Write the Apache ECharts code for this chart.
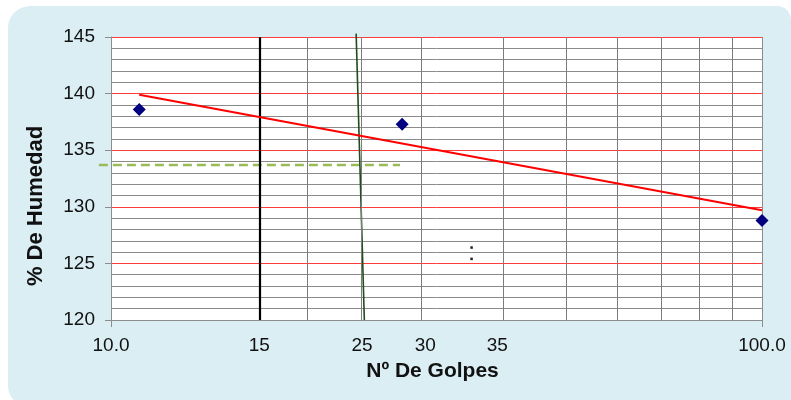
<!DOCTYPE html>
<html>
<head>
<meta charset="utf-8">
<script src="https://cdn.jsdelivr.net/npm/echarts@6/dist/echarts.min.js"></script>
<style>
  html, body { margin: 0; padding: 0; background: #ffffff; }
  #wrap { position: relative; width: 791px; height: 400px; overflow: hidden; background: #ffffff; }
  #panel { position: absolute; left: 8px; top: 6px; width: 783px; height: 400px; border-radius: 22px 14px 0 20px; background: #dbeef4; }
  #chart { position: absolute; left: 0; top: 0; width: 791px; height: 400px; }
</style>
</head>
<body>
<div id="wrap">
  <div id="panel"></div>
  <div id="chart"></div>
</div>
<script>
// ---- data ----
const xTickValues = [10, 16.9, 24.3, 30.4, 39.2, 100];
const xTickLabels = ['10.0', '15', '25', '30', '35', '100.0'];
const yMin = 120, yMax = 145, yStep = 5;

const grayVerticals = [20, 24.2, 30, 40, 50, 60, 70, 80, 90];
const blackVerticals = [16.9];

const golpes  = [11.05, 28.0, 100];
const humedad = [138.6, 137.3, 128.8];

const trendX = [11.05, 100];
const trendY = [139.9, 129.7];

const line25X = [23.8, 24.5];
const line25Y = [145.3, 120];

const dashX = [9.58, 27.8];
const dashY = [133.7, 133.7];

const dotsX = [35.8, 35.8];
const dotsY = [126.4, 125.4];

const zip = (a, b) => a.map((v, i) => [v, b[i]]);

const font = '"Liberation Sans", Arial, sans-serif';
const chart = echarts.init(document.getElementById('chart'), null, { renderer: 'canvas' });

// log-axis position that also works below the axis minimum
function logCoord(api, x, y) {
  const p10 = api.coord([10, y]);
  const p100 = api.coord([100, y]);
  const t = Math.log10(x / 10);
  return [p10[0] + t * (p100[0] - p10[0]), p10[1]];
}

chart.setOption({
  animation: false,
  backgroundColor: 'transparent',
  grid: { left: 111, right: 29, top: 37, bottom: 80, show: true, backgroundColor: '#ffffff', borderWidth: 0 },
  xAxis: {
    type: 'log', logBase: 10, min: 10, max: 100,
    name: 'Nº De Golpes', nameLocation: 'middle', nameGap: 41,
    nameTextStyle: { fontFamily: font, fontSize: 21, fontWeight: 'bold', color: '#111', padding: [0, 8, 0, 0] },
    axisLine: { show: true, lineStyle: { color: '#8c8c8c', width: 1 } },
    axisTick: { show: true, length: 7, lineStyle: { color: '#8c8c8c' } },
    axisLabel: {
      show: true, margin: 16, fontFamily: font, fontSize: 19, color: '#111',
      customValues: xTickValues,
      formatter: function (v) {
        let best = 0, d = Infinity;
        xTickValues.forEach((t, i) => { const dd = Math.abs(Math.log10(t) - Math.log10(v)); if (dd < d) { d = dd; best = i; } });
        return xTickLabels[best];
      }
    },
    splitLine: { show: true, lineStyle: { color: '#8c8c8c', width: 1 } },
    minorTick: { show: false },
    minorSplitLine: { show: false }
  },
  yAxis: {
    type: 'value', min: yMin, max: yMax, interval: yStep,
    name: '% De Humedad', nameLocation: 'middle', nameGap: 64,
    nameTextStyle: { fontFamily: font, fontSize: 22, fontWeight: 'bold', color: '#111', padding: [0, 55, 0, 0] },
    axisLine: { show: true, lineStyle: { color: '#8c8c8c', width: 1 } },
    axisTick: { show: true, length: 6, lineStyle: { color: '#8c8c8c' } },
    axisLabel: { margin: 16, fontFamily: font, fontSize: 19, color: '#111' },
    splitLine: { show: true, lineStyle: { color: '#ff3c3c', width: 1 } },
    minorTick: { show: false, splitNumber: 5 },
    minorSplitLine: { show: true, lineStyle: { color: '#8a8a8a', width: 1 } }
  },
  series: [
    {
      type: 'line', data: [], z: 1, silent: true,
      markLine: {
        silent: true, symbol: 'none', label: { show: false }, animation: false,
        data: grayVerticals.map(v => ({ xAxis: v, lineStyle: { color: '#7c7c7c', width: 1, type: 'solid' } }))
          .concat(blackVerticals.map(v => ({ xAxis: v, lineStyle: { color: '#000000', width: 2.2, type: 'solid' } })))
      }
    },
    {
      type: 'custom', z: 3, clip: false, silent: true,
      data: [[dashX[0], dashY[0], dashX[1], dashY[1]]],
      renderItem: function (params, api) {
        const a = logCoord(api, api.value(0), api.value(1));
        const b = logCoord(api, api.value(2), api.value(3));
        return {
          type: 'line',
          shape: { x1: a[0], y1: a[1], x2: b[0], y2: b[1] },
          style: { stroke: '#9bbb59', lineWidth: 2.5, lineDash: [9, 5] }
        };
      }
    },
    {
      type: 'line', data: zip(line25X, line25Y), z: 4, clip: false, showSymbol: false, silent: true,
      lineStyle: { color: '#1c4f1c', width: 1.6 }
    },
    {
      type: 'line', data: zip(trendX, trendY), z: 5, showSymbol: false, silent: true,
      lineStyle: { color: '#ff0000', width: 2 }
    },
    {
      type: 'scatter', data: zip(golpes, humedad), z: 6, clip: false,
      symbol: 'diamond', symbolSize: 13,
      itemStyle: { color: '#000080', opacity: 1 }
    },
    {
      type: 'scatter', data: zip(dotsX, dotsY), z: 6,
      symbol: 'rect', symbolSize: 2.5,
      itemStyle: { color: '#222222', opacity: 1 }
    }
  ]
});
</script>
</body>
</html>
